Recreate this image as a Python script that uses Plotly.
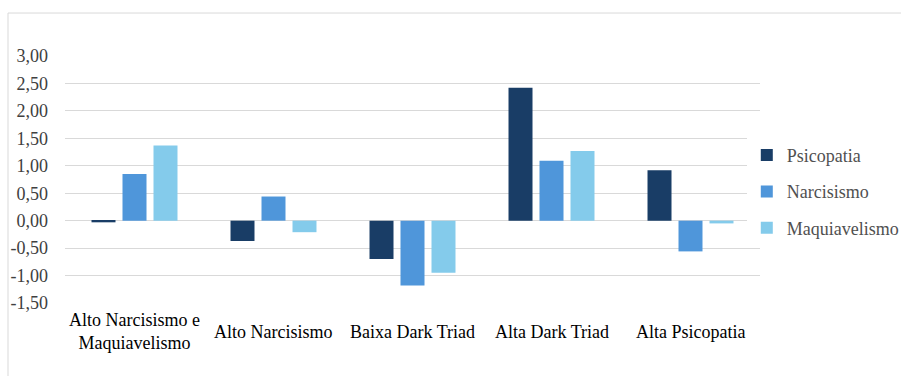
import plotly.graph_objects as go

# Grupos (perfis) e médias padronizadas de cada traço da Dark Triad
categorias = ["Alto Narcisismo e<br>Maquiavelismo", "Alto Narcisismo",
              "Baixa Dark Triad", "Alta Dark Triad", "Alta Psicopatia"]
psicopatia = [-0.03, -0.37, -0.70, 2.42, 0.92]
narcisismo = [0.85, 0.44, -1.18, 1.09, -0.56]
maquiavelismo = [1.37, -0.21, -0.95, 1.27, -0.05]

y_ticks = [-1.5, -1.0, -0.5, 0.0, 0.5, 1.0, 1.5, 2.0, 2.5, 3.0]
y_ticktext = [f"{v:.2f}".replace(".", ",") for v in y_ticks]

series = [
    ("Psicopatia", psicopatia, "#193D66"),
    ("Narcisismo", narcisismo, "#4F96DA"),
    ("Maquiavelismo", maquiavelismo, "#84CBEB"),
]

FONT = "Liberation Serif"
FSIZE = 18

fig = go.Figure()
for i, (nome, valores, cor) in enumerate(series):
    fig.add_trace(go.Bar(
        x=categorias, y=valores, name=nome,
        marker=dict(color=cor, line=dict(width=0)),
        legendgroup=f"g{i}",
    ))

# rótulos das categorias centrados verticalmente abaixo do eixo
for c in categorias:
    fig.add_annotation(x=c, xref="x", y=-0.117, yref="paper",
                       text=c, showarrow=False, yanchor="middle",
                       font=dict(family=FONT, size=FSIZE, color="#000000"))

# moldura externa do gráfico
fig.add_shape(type="rect", xref="paper", yref="paper",
              x0=-0.082, x1=1.4, y0=-0.5, y1=1.174,
              line=dict(color="#D9D9D9", width=1), layer="below")

fig.update_layout(
    width=901, height=376,
    margin=dict(l=65, r=141, t=56, b=73, autoexpand=False),
    paper_bgcolor="white", plot_bgcolor="white",
    barmode="group", bargap=0.331, bargroupgap=0.226,
    font=dict(family=FONT, size=FSIZE, color="#404040"),
    showlegend=True,
    legend=dict(x=0.981, xanchor="left", y=0.45, yanchor="middle",
                traceorder="grouped", tracegroupgap=10,
                font=dict(family=FONT, size=FSIZE, color="#505050"),
                itemwidth=30),
)
fig.update_xaxes(showticklabels=False, showgrid=False, zeroline=False,
                 showline=False, ticks="")
fig.update_yaxes(range=[-1.5, 3.0], tickvals=y_ticks, ticktext=y_ticktext,
                 showgrid=True, gridcolor="#D9D9D9", gridwidth=1,
                 zeroline=True, zerolinecolor="#D9D9D9", zerolinewidth=1,
                 showline=False, ticks="", ticklabelstandoff=16,
                 tickfont=dict(family=FONT, size=FSIZE, color="#404040"))

fig.write_html("out.html")
